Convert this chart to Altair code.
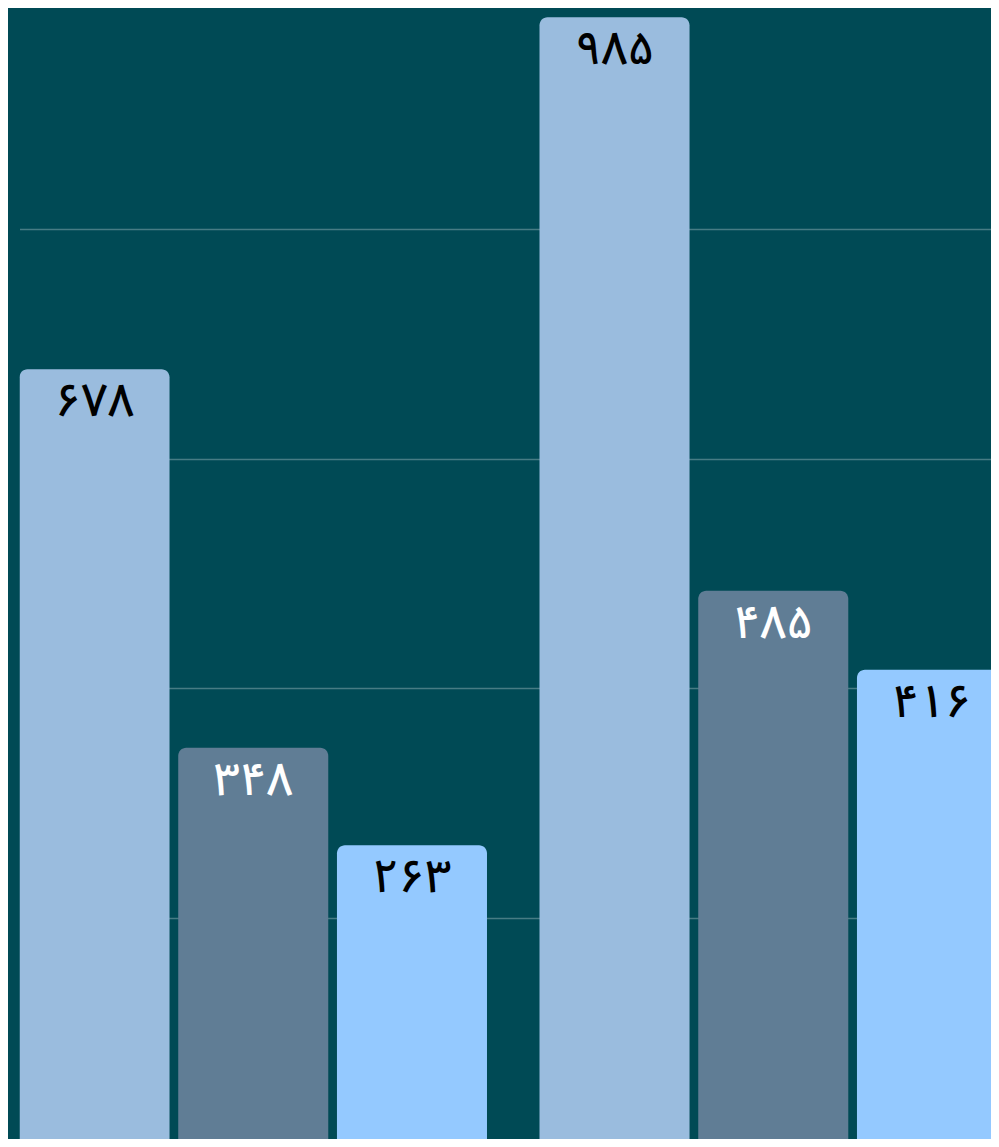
import altair as alt
import pandas as pd

groups = ["گروه ۱", "گروه ۲"]
series = ["سری ۱", "سری ۲", "سری ۳"]
values_g1 = [678, 348, 263]
values_g2 = [985, 485, 416]
series_colors = ["#9abcde", "#607d95", "#94c9ff"]
label_colors = ["#000000", "#ffffff", "#000000"]

fa = str.maketrans("0123456789", "۰۱۲۳۴۵۶۷۸۹")

rows = []
for g, vals in zip(groups, [values_g1, values_g2]):
    for s, v, lc in zip(series, vals, label_colors):
        rows.append({"group": g, "series": s, "value": v,
                     "label": str(v).translate(fa), "lc": lc})
df = pd.DataFrame(rows)

base = alt.Chart(df).encode(
    x=alt.X("group:N", sort=groups, axis=None,
            scale=alt.Scale(paddingInner=0.101, paddingOuter=0,
                            range=[0, 987.5])),
    xOffset=alt.XOffset("series:N", sort=series,
                        scale=alt.Scale(paddingInner=0.0548, paddingOuter=0)),
    y=alt.Y("value:Q",
            scale=alt.Scale(domain=[7, 993], nice=False, zero=False),
            axis=alt.Axis(values=[200, 400, 600, 800], grid=True,
                          gridColor="#ffffff", gridOpacity=0.28, gridWidth=1.5,
                          domain=False, ticks=False, labels=False, title=None)),
)

bars = base.mark_bar(cornerRadiusTopLeft=8, cornerRadiusTopRight=8,
                     clip=True).encode(
    y2=alt.datum(0),
    color=alt.Color("series:N", sort=series,
                    scale=alt.Scale(domain=series, range=series_colors),
                    legend=None)
)

text = base.mark_text(baseline="top", align="center", dy=11, fontSize=46,
                      fontWeight=500,
                      font="Noto Sans Arabic, Noto Naskh Arabic, sans-serif").encode(
    text="label:N",
    color=alt.Color("lc:N", scale=None),
)

chart = (bars + text).properties(
    width=971.5, height=1131,
    background="#004a55",
    padding={"left": 11.5, "top": 0, "right": 0, "bottom": 0},
    autosize=alt.AutoSizeParams(type="none"),
).configure_view(stroke=None)

chart.save("out.html", embed_options={"renderer": "svg", "actions": False})
